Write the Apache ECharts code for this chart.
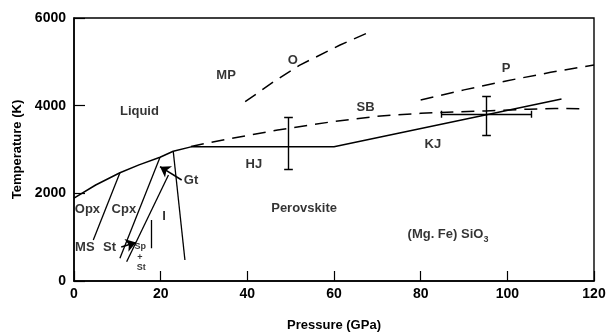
<!DOCTYPE html>
<html><head><meta charset="utf-8">
<script src="https://cdn.jsdelivr.net/npm/echarts@6/dist/echarts.min.js"></script>
<style>html,body{margin:0;padding:0;background:#fff}#c{width:609px;height:335px}</style>
</head><body><div id="c"></div>
<script>
// ---- data (pressure GPa, temperature K) ----
const xTicks = [0, 20, 40, 60, 80, 100, 120];
const yTicks = [0, 2000, 4000, 6000];
const meltingCurve = [[0,1890],[5,2190],[10.6,2470],[15,2650],[19.85,2822],[22.9,2960],[27,3060],[60,3062],[112.5,4150]];
const sbCurve = [[27,3070],[35,3230],[47,3445],[60,3640],[70,3760],[80,3826],[95,3880],[105,3920],[111,3935],[117,3930]];
const oCurve = [[39.5,4090],[46,4540],[52,4920],[61.4,5385],[68.7,5700]];
const pCurve = [[80,4130],[90,4360],[100,4570],[110,4760],[120,4930]];
const phaseBoundaries = [
  [[10.6,2470],[4.45,935]],
  [[19.85,2822],[10.6,518]],
  [[21.8,2418],[12.15,440]],
  [[22.9,2960],[25.6,479]],
  [[17.8,1392],[17.8,746]]
];
const arrowGt = [[24.85,2304],[19.85,2608]];
const arrowSt = [[10.9,775],[14.3,880]];
const errV = [[49.5,2555,3726],[95.2,3331,4221]];   // x, low, high
const errH = [[3803,84.7,105.6]];                   // y, low, high
const labelTexts = ['MP','O','P','SB','Liquid','HJ','KJ','Gt','Opx','Cpx','I','Perovskite','(Mg. Fe) SiO{s|3}','MS','St'];
const labelCoords = [[35.1,4690],[50.5,5042],[99.7,4852],[67.3,3962],[15.1,3878],[41.5,2660],[82.8,3126],[27.0,2288],[3.1,1643],[11.5,1643],[20.8,1483],[53.1,1660],[86.3,1060],[2.5,769],[8.2,769]];
const smallTexts = ['Sp','+','St'];
const smallCoords = [[15.3,798],[15.2,540],[15.5,312]];

// ---- build ----
const FONT = "'Liberation Sans', Arial, Helvetica, sans-serif";
const capX = 1.0, capY = 80;
const errSegs = [];
errV.forEach(([x,lo,hi]) => {
  errSegs.push([[x,lo],[x,hi]], [[x-capX,lo],[x+capX,lo]], [[x-capX,hi],[x+capX,hi]]);
});
errH.forEach(([y,lo,hi]) => {
  errSegs.push([[lo,y],[hi,y]], [[lo,y-capY],[lo,y+capY]], [[hi,y-capY],[hi,y+capY]]);
});
const black = '#000';
const solid = {color: black, width: 1.5};
const dashed = {color: black, width: 1.5, type: [13, 8]};

const chart = echarts.init(document.getElementById('c'), null, {renderer: 'canvas'});
chart.setOption({
  animation: false,
  backgroundColor: '#fff',
  grid: {left: 74, right: 15, top: 18, bottom: 54, show: true, borderColor: black, borderWidth: 1.4,
         containLabel: false, outerBoundsMode: 'none'},
  xAxis: {
    type: 'value', min: 0, max: 120, interval: 20,
    name: 'Pressure (GPa)', nameLocation: 'middle', nameGap: 38,
    nameTextStyle: {fontFamily: FONT, fontWeight: 'bold', fontSize: 13, color: black},
    axisLine: {show: true, lineStyle: {color: black, width: 1.5}},
    axisTick: {show: true, inside: true, length: 10, lineStyle: {color: black, width: 1.2}},
    axisLabel: {fontFamily: FONT, fontWeight: 'bold', fontSize: 14, color: black, margin: 6,
      formatter: v => String(v)},
    splitLine: {show: false}
  },
  yAxis: {
    type: 'value', min: 0, max: 6000, interval: 2000,
    name: 'Temperature (K)', nameLocation: 'middle', nameGap: 40, nameRotate: 90,
    nameTextStyle: {fontFamily: FONT, fontWeight: 'bold', fontSize: 13, color: black},
    axisLine: {show: true, lineStyle: {color: black, width: 1.5}},
    axisTick: {show: true, inside: true, length: 11, lineStyle: {color: black, width: 1.2}},
    axisLabel: {fontFamily: FONT, fontWeight: 'bold', fontSize: 14, color: black, margin: 8,
      formatter: v => String(v)},
    splitLine: {show: false}
  },
  series: [
    {type: 'line', data: meltingCurve, showSymbol: false, lineStyle: solid, silent: true},
    {type: 'line', data: sbCurve, showSymbol: false, lineStyle: dashed, silent: true},
    {type: 'line', data: oCurve, showSymbol: false, lineStyle: dashed, silent: true},
    {type: 'line', data: pCurve, showSymbol: false, lineStyle: dashed, silent: true},
    {type: 'lines', coordinateSystem: 'cartesian2d', silent: true,
     data: phaseBoundaries.map(c => ({coords: c})), lineStyle: {color: black, width: 1.3, opacity: 1}},
    {type: 'lines', coordinateSystem: 'cartesian2d', silent: true,
     data: errSegs.map(c => ({coords: c})), lineStyle: {color: black, width: 1.4, opacity: 1}},
    {type: 'lines', coordinateSystem: 'cartesian2d', silent: true,
     symbol: ['none', 'arrow'], symbolSize: 10, itemStyle: {color: black},
     data: [arrowGt, arrowSt].map(c => ({coords: c})), lineStyle: {color: black, width: 1.5, opacity: 1}},
    {type: 'scatter', symbolSize: 0, silent: true,
     data: labelCoords.map((c, i) => ({value: c, name: labelTexts[i]})),
     label: {show: true, position: 'inside', formatter: p => p.name,
       fontFamily: FONT, fontWeight: 'bold', fontSize: 13, color: black,
       rich: {s: {fontFamily: FONT, fontWeight: 'bold', fontSize: 9, color: black, padding: [9, 0, 0, 0]}}}},
    {type: 'scatter', symbolSize: 0, silent: true,
     data: smallCoords.map((c, i) => ({value: c, name: smallTexts[i]})),
     label: {show: true, position: 'inside', formatter: p => p.name,
       fontFamily: FONT, fontWeight: 'bold', fontSize: 9, color: black}}
  ]
});
</script></body></html>
